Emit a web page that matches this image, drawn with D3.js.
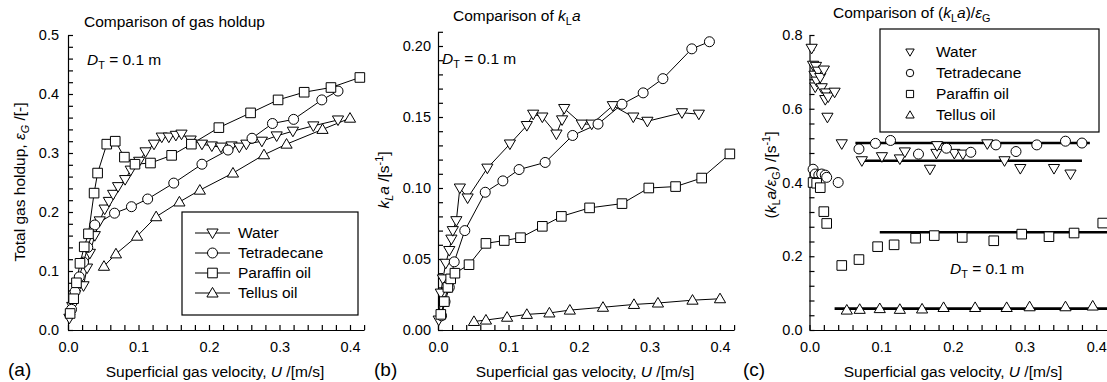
<!DOCTYPE html>
<html>
<head>
<meta charset="utf-8">
<script src="https://cdn.jsdelivr.net/npm/d3@7"></script>
<style>
  body { margin: 0; background: #fff; }
  svg { display: block; font-family: "Liberation Sans", Arial, sans-serif; }
  text { white-space: pre; fill: #000; }
  .axis path, .axis line { stroke: #000; stroke-width: 1.2; }
  .axis text { font-size: 14.5px; font-family: "Liberation Sans", Arial, sans-serif; }
</style>
</head>
<body>
<div id="chart"></div>
<script>
// liquids, in legend order
const liquids = ['Water', 'Tetradecane', 'Paraffin oil', 'Tellus oil'];
const shapes = ['down', 'circle', 'square', 'up'];

// tick labels
const uTicks = [0, 0.1, 0.2, 0.3, 0.4];
const holdupTicks = [0, 0.1, 0.2, 0.3, 0.4, 0.5];
const klaTicks = [0, 0.05, 0.10, 0.15, 0.20];
const ratioTicks = [0, 0.2, 0.4, 0.6, 0.8];

// (a) gas holdup [U, eps_G]
const holdupWater = [[0.002,0.020],[0.006,0.040],[0.010,0.060],[0.015,0.075],[0.022,0.075],[0.027,0.105],[0.031,0.130],[0.038,0.160],[0.045,0.185],[0.052,0.205],[0.058,0.218],[0.064,0.230],[0.071,0.243],[0.081,0.255],[0.089,0.271],[0.101,0.286],[0.110,0.302],[0.122,0.315],[0.133,0.327],[0.143,0.327],[0.153,0.330],[0.161,0.332],[0.174,0.322],[0.190,0.315],[0.204,0.312],[0.217,0.310],[0.232,0.312],[0.243,0.310],[0.253,0.315],[0.275,0.320],[0.296,0.329],[0.319,0.337],[0.348,0.346],[0.383,0.356]];
const holdupTetradecane = [[0.005,0.035],[0.010,0.065],[0.016,0.090],[0.022,0.115],[0.028,0.140],[0.038,0.178],[0.066,0.198],[0.090,0.209],[0.113,0.222],[0.150,0.249],[0.190,0.281],[0.227,0.305],[0.261,0.325],[0.290,0.350],[0.320,0.357],[0.360,0.390],[0.383,0.405]];
const holdupParaffin = [[0.003,0.028],[0.008,0.053],[0.012,0.080],[0.017,0.113],[0.023,0.141],[0.029,0.163],[0.037,0.232],[0.042,0.266],[0.055,0.315],[0.067,0.320],[0.080,0.293],[0.095,0.281],[0.117,0.283],[0.147,0.296],[0.175,0.315],[0.214,0.343],[0.259,0.368],[0.298,0.390],[0.335,0.403],[0.373,0.411],[0.414,0.428]];
const holdupTellus = [[0.051,0.108],[0.068,0.129],[0.098,0.159],[0.125,0.192],[0.158,0.217],[0.187,0.237],[0.234,0.266],[0.278,0.297],[0.310,0.315],[0.361,0.340],[0.400,0.359]];

// (b) kLa [U, kLa]
const klaWater = [[0.001,0.007],[0.004,0.026],[0.007,0.036],[0.011,0.047],[0.016,0.056],[0.019,0.064],[0.021,0.070],[0.026,0.077],[0.031,0.100],[0.042,0.093],[0.070,0.114],[0.102,0.131],[0.126,0.144],[0.135,0.152],[0.148,0.150],[0.168,0.138],[0.176,0.148],[0.179,0.156],[0.204,0.145],[0.218,0.145],[0.248,0.158],[0.277,0.150],[0.297,0.147],[0.346,0.153],[0.370,0.152]];
const klaTetradecane = [[0.005,0.010],[0.010,0.020],[0.016,0.030],[0.023,0.048],[0.038,0.070],[0.067,0.097],[0.092,0.105],[0.115,0.113],[0.152,0.118],[0.191,0.137],[0.227,0.145],[0.261,0.159],[0.291,0.167],[0.319,0.177],[0.360,0.198],[0.385,0.203]];
const klaParaffin = [[0.004,0.011],[0.009,0.020],[0.014,0.030],[0.018,0.036],[0.024,0.040],[0.044,0.046],[0.068,0.061],[0.094,0.063],[0.117,0.065],[0.148,0.073],[0.175,0.080],[0.215,0.086],[0.261,0.089],[0.299,0.100],[0.337,0.101],[0.374,0.107],[0.414,0.124]];
const klaTellus = [[0.051,0.006],[0.068,0.007],[0.098,0.009],[0.126,0.011],[0.158,0.012],[0.187,0.014],[0.234,0.016],[0.278,0.018],[0.312,0.019],[0.361,0.021],[0.400,0.022]];

// (c) kLa / eps_G [U, ratio]
const ratioWater = [[0.003,0.764],[0.005,0.718],[0.007,0.691],[0.008,0.659],[0.009,0.715],[0.010,0.675],[0.012,0.702],[0.015,0.685],[0.017,0.657],[0.020,0.705],[0.022,0.625],[0.023,0.643],[0.025,0.577],[0.026,0.632],[0.035,0.645],[0.045,0.505],[0.073,0.459],[0.101,0.470],[0.126,0.464],[0.133,0.483],[0.168,0.436],[0.177,0.479],[0.178,0.500],[0.202,0.479],[0.214,0.477],[0.248,0.505],[0.272,0.459],[0.294,0.438],[0.341,0.438],[0.364,0.423]];
const ratioTetradecane = [[0.005,0.436],[0.008,0.423],[0.013,0.420],[0.017,0.423],[0.022,0.420],[0.024,0.414],[0.040,0.400],[0.069,0.491],[0.092,0.506],[0.113,0.514],[0.152,0.477],[0.191,0.493],[0.225,0.482],[0.260,0.502],[0.288,0.484],[0.317,0.502],[0.357,0.512],[0.380,0.507]];
const ratioParaffin = [[0.005,0.400],[0.010,0.398],[0.015,0.386],[0.020,0.321],[0.024,0.289],[0.045,0.175],[0.069,0.191],[0.095,0.226],[0.118,0.231],[0.148,0.249],[0.174,0.256],[0.213,0.251],[0.257,0.242],[0.296,0.260],[0.334,0.253],[0.369,0.263],[0.409,0.290]];
const ratioTellus = [[0.052,0.054],[0.070,0.056],[0.098,0.058],[0.126,0.056],[0.157,0.057],[0.187,0.061],[0.231,0.061],[0.275,0.061],[0.307,0.063],[0.357,0.063],[0.395,0.065]];
// constant fits in (c): [from U, to U, value]
const ratioFits = [[0.075,0.380,0.459],[0.064,0.391,0.507],[0.098,0.42,0.265],[0.035,0.42,0.058]];

const width = 1107, height = 382;
const svg = d3.select('#chart').append('svg')
  .attr('width', width).attr('height', height);

function rich(sel, parts) {
  let shift = 0;
  parts.forEach(p => {
    const target = p.sub ? 4 : p.sup ? -6 : 0;
    const ts = sel.append('tspan').text(p.t).attr('dy', target - shift);
    shift = target;
    if (p.i) ts.attr('font-style', 'italic');
    if (p.sub || p.sup) ts.attr('font-size', '0.7em');
  });
  return sel;
}

function markerPath(type, s = 1) {
  if (type === 'square') {
    const h = 4.8 * s;
    return `M${-h},${-h}H${h}V${h}H${-h}Z`;
  }
  if (type === 'circle') {
    const r = 5 * s;
    return `M${r},0A${r},${r} 0 1,1 ${-r},0A${r},${r} 0 1,1 ${r},0Z`;
  }
  const w = 5.6 * s, a = 5.6 * s, b = 4 * s;
  if (type === 'up') return `M0,${-a}L${w},${b}L${-w},${b}Z`;
  return `M0,${a}L${w},${-b}L${-w},${-b}Z`;
}

const near = (list, d) => list.some(t => Math.abs(t - d) < 1e-9);

function drawPanel(p) {
  const x = d3.scaleLinear().domain([0, 0.42]).range([p.left, p.left + 0.42 * p.xUnit]);
  const y = d3.scaleLinear().domain(p.yDomain).range([330, p.top]);
  const g = svg.append('g');

  g.append('g').attr('class', 'axis')
    .attr('transform', 'translate(0,330)')
    .call(d3.axisBottom(x)
      .tickValues(d3.range(0, 0.42 + 1e-9, 0.02))
      .tickSizeInner(-5).tickSizeOuter(0).tickPadding(12)
      .tickFormat(d => near(uTicks, d) ? d3.format('.1f')(d) : ''));

  g.append('g').attr('class', 'axis')
    .attr('transform', `translate(${p.left},0)`)
    .call(d3.axisLeft(y)
      .tickValues(d3.range(p.yDomain[0], p.yDomain[1] + 1e-9, p.yMinor))
      .tickSizeInner(-5).tickSizeOuter(0).tickPadding(p.yPad)
      .tickFormat(d => near(p.yTicks, d) ? d3.format(p.yFmt)(d) : ''));

  const line = d3.line().x(d => x(d[0])).y(d => y(d[1]));
  if (p.lines) {
    p.series.forEach(s => {
      g.append('path').datum(s).attr('d', line)
        .attr('fill', 'none').attr('stroke', '#000').attr('stroke-width', 1);
    });
  }
  if (p.fits) {
    g.selectAll('line.fit').data(p.fits).join('line')
      .attr('class', 'fit')
      .attr('x1', d => x(d[0])).attr('x2', d => x(d[1]))
      .attr('y1', d => y(d[2])).attr('y2', d => y(d[2]))
      .attr('stroke', '#000').attr('stroke-width', 2.6);
  }
  p.drawOrder.forEach(i => {
    g.append('g').selectAll('path').data(p.series[i]).join('path')
      .attr('transform', d => `translate(${x(d[0])},${y(d[1])})`)
      .attr('d', markerPath(shapes[i]))
      .attr('fill', '#fff').attr('stroke', '#000').attr('stroke-width', 1);
  });

  // titles and labels
  rich(g.append('text').attr('x', p.title[0]).attr('y', p.title[1]).attr('font-size', 15.5), p.titleParts);
  rich(g.append('text').attr('x', p.dt[0]).attr('y', p.dt[1]).attr('font-size', 15.5),
    [{ t: 'D', i: 1 }, { t: 'T', sub: 1 }, { t: ' = 0.1 m' }]);
  rich(g.append('text').attr('x', p.xLabelX).attr('y', 377).attr('font-size', 15.5)
    .attr('text-anchor', 'middle'),
    [{ t: 'Superficial gas velocity, ' }, { t: 'U', i: 1 }, { t: ' /[m/s]' }]);
  g.append('text').attr('x', p.tag).attr('y', 376).attr('font-size', 19).text(p.tagText);
  rich(g.append('text')
    .attr('transform', `translate(${p.yLabel[0]},${p.yLabel[1]}) rotate(-90)`)
    .attr('text-anchor', 'middle').attr('font-size', 15.5), p.yLabelParts);

  return { g, x, y };
}

const a = drawPanel({
  left: 68, xUnit: 705, top: 35, yDomain: [0, 0.5], yMinor: 0.02, yTicks: holdupTicks, yFmt: '.1f', yPad: 9,
  series: [holdupWater, holdupTetradecane, holdupParaffin, holdupTellus], lines: true, drawOrder: [0, 1, 3, 2],
  title: [84, 27], titleParts: [{ t: 'Comparison of gas holdup' }],
  dt: [87, 65], xLabelX: 215, tag: 8, tagText: '(a)',
  yLabel: [25, 182],
  yLabelParts: [{ t: 'Total gas holdup, ' }, { t: 'ε', i: 1 }, { t: 'G', i: 1, sub: 1 }, { t: ' /[-]' }]
});

drawPanel({
  left: 438, xUnit: 705, top: 31.8, yDomain: [0, 0.21], yMinor: 0.01, yTicks: klaTicks, yFmt: '.2f', yPad: 7,
  series: [klaWater, klaTetradecane, klaParaffin, klaTellus], lines: true, drawOrder: [0, 1, 3, 2],
  title: [453, 21], titleParts: [{ t: 'Comparison of ' }, { t: 'k', i: 1 }, { t: 'L', sub: 1 }, { t: 'a', i: 1 }],
  dt: [442, 64], xLabelX: 585, tag: 374, tagText: '(b)',
  yLabel: [389, 180],
  yLabelParts: [{ t: 'k', i: 1 }, { t: 'L', i: 1, sub: 1 }, { t: 'a', i: 1 }, { t: ' /[s' }, { t: '-1', sup: 1 }, { t: ']' }]
});

const c = drawPanel({
  left: 809.5, xUnit: 717, top: 35, yDomain: [0, 0.8], yMinor: 0.04, yTicks: ratioTicks, yFmt: '.1f', yPad: 7,
  series: [ratioWater, ratioTetradecane, ratioParaffin, ratioTellus], lines: false, fits: ratioFits,
  drawOrder: [0, 1, 2, 3],
  title: [833, 18],
  titleParts: [{ t: 'Comparison of (' }, { t: 'k', i: 1 }, { t: 'L', sub: 1 }, { t: 'a', i: 1 }, { t: ')/' }, { t: 'ε', i: 1 }, { t: 'G', sub: 1 }],
  dt: [950, 274], xLabelX: 953, tag: 743, tagText: '(c)',
  yLabel: [776, 175],
  yLabelParts: [{ t: '(' }, { t: 'k', i: 1 }, { t: 'L', sub: 1 }, { t: 'a/', i: 1 }, { t: 'ε', i: 1 }, { t: 'G', sub: 1 }, { t: ') /[s' }, { t: '-1', sup: 1 }, { t: ']' }]
});

// legend (a): line + marker
const legA = a.g.append('g');
legA.append('rect').attr('x', 182).attr('y', 212).attr('width', 176).attr('height', 103)
  .attr('fill', '#fff').attr('stroke', '#000').attr('stroke-width', 1.2);
liquids.forEach((name, i) => {
  const yy = 233 + i * 20;
  legA.append('line').attr('x1', 195).attr('x2', 230).attr('y1', yy).attr('y2', yy)
    .attr('stroke', '#000').attr('stroke-width', 1);
  legA.append('path').attr('transform', `translate(212.5,${yy})`).attr('d', markerPath(shapes[i]))
    .attr('fill', '#fff').attr('stroke', '#000');
  legA.append('text').attr('x', 238).attr('y', yy).attr('dy', '0.35em').attr('font-size', 15.5).text(name);
});

// legend (c): markers only
const legC = c.g.append('g');
legC.append('rect').attr('x', 880).attr('y', 29).attr('width', 219).attr('height', 103)
  .attr('fill', '#fff').attr('stroke', '#000').attr('stroke-width', 1.2);
liquids.forEach((name, i) => {
  const yy = 52 + i * 21;
  legC.append('path').attr('transform', `translate(910,${yy})`).attr('d', markerPath(shapes[i], 0.75))
    .attr('fill', '#fff').attr('stroke', '#000');
  legC.append('text').attr('x', 936).attr('y', yy).attr('dy', '0.35em').attr('font-size', 15.5).text(name);
});
</script>
</body>
</html>
